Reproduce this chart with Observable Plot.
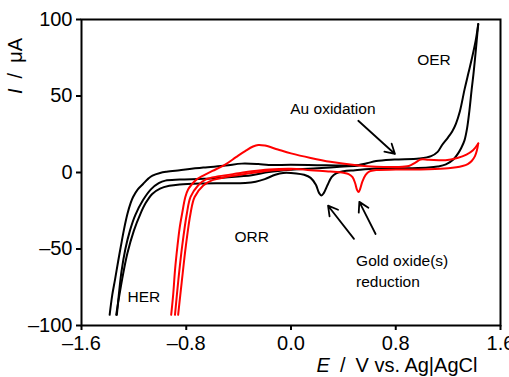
<!DOCTYPE html>
<html><head><meta charset="utf-8">
<script src="https://cdn.jsdelivr.net/npm/d3@7"></script>
<script src="https://cdn.jsdelivr.net/npm/@observablehq/plot@0.6"></script>
<style>
html,body{margin:0;padding:0;background:#fff;}
#chart svg{display:block;}
#chart g[aria-label^="x-axis"] line, #chart g[aria-label^="x-axis"] path,
#chart g[aria-label^="y-axis"] line, #chart g[aria-label^="y-axis"] path{stroke-width:2px;stroke:#000;}
</style>
</head><body><div id="chart"></div>
<script>
// ---- data (E in V vs Ag|AgCl, I in µA) ----
const xTicks = [-1.6, -0.8, 0, 0.8, 1.6];
const yTicks = [-100, -50, 0, 50, 100];

const blackAnodic1 = [[-1.385,-93],[-1.365,-80],[-1.344,-70],[-1.32,-58],[-1.299,-48],[-1.275,-37],[-1.249,-27],[-1.225,-20],[-1.206,-16],[-1.17,-11],[-1.13,-7.5],[-1.09,-4],[-1.058,-2],[-1.0,-0.3],[-0.95,0.5],[-0.85,1.5],[-0.67,3.2],[-0.5,4.5],[-0.376,5.8],[-0.25,5.5],[-0.17,4.9],[0,5],[0.2,4.8],[0.4,4.6],[0.51,4.8],[0.58,6],[0.65,7.5],[0.79,8.5],[0.98,9.2],[1.07,10.7],[1.12,13.5],[1.154,18],[1.2,23],[1.232,27],[1.26,32],[1.29,40],[1.326,54.5],[1.355,65],[1.38,74],[1.41,86],[1.43,97]];
const blackCathodic = [[1.43,97],[1.418,86],[1.405,74],[1.393,64],[1.38,54.5],[1.362,40],[1.345,29],[1.325,21],[1.30,16],[1.28,13],[1.24,8.5],[1.183,5.3],[1.12,3.9],[1.05,3.2],[0.9,2.8],[0.65,2.6],[0.49,1.5],[0.40,0.8],[0.345,-0.5],[0.31,-3],[0.28,-8],[0.25,-13.5],[0.233,-15],[0.215,-13.5],[0.19,-8],[0.15,-3.5],[0.10,-1.5],[0.04,-0.6],[-0.06,-0.3],[-0.12,-1.5],[-0.2,-4.3],[-0.27,-6],[-0.35,-6.8],[-0.5,-7],[-0.7,-7.2],[-0.85,-7.8],[-0.93,-8.7],[-1.0,-10.5],[-1.06,-14],[-1.11,-20],[-1.15,-27],[-1.2,-38],[-1.25,-53],[-1.29,-70],[-1.32,-85],[-1.335,-93]];
const blackAnodic2 = [[-1.33,-93],[-1.315,-80],[-1.295,-65],[-1.265,-50],[-1.23,-38],[-1.19,-28],[-1.13,-18],[-1.07,-11],[-1.01,-7],[-0.96,-5.3],[-0.85,-4.6],[-0.67,-4.1],[-0.5,-3.2],[-0.3,-1.8],[-0.17,0.3],[0,1.8],[0.2,2.8],[0.35,3.6],[0.5,4.4],[0.56,5]];

const redAnodic = [[-0.915,-93],[-0.9,-80],[-0.885,-63],[-0.867,-48],[-0.85,-36],[-0.831,-26.6],[-0.807,-16],[-0.785,-11],[-0.76,-8],[-0.72,-4.5],[-0.67,-2],[-0.6,1],[-0.5,5.3],[-0.42,10],[-0.35,14],[-0.29,17],[-0.25,18],[-0.2,17.6],[-0.1,15],[0,12.5],[0.15,9.5],[0.3,7],[0.5,4.8],[0.65,3.8],[0.8,3.6],[0.9,4.2],[0.95,6.5],[0.99,8.5],[1.05,8.4],[1.18,8],[1.27,9.5],[1.34,11.7],[1.39,14.5],[1.43,19]];
const redCathodic = [[1.43,19],[1.42,14.5],[1.405,10.7],[1.38,7.5],[1.35,5.5],[1.31,4.3],[1.2,2.8],[1.05,2.1],[0.8,1.9],[0.65,1.6],[0.6,0.8],[0.57,-1.5],[0.545,-6],[0.527,-11],[0.517,-12.8],[0.505,-11.5],[0.49,-7],[0.47,-3],[0.44,-1],[0.4,-0.2],[0.3,0.6],[0.15,1.5],[0,2.5],[-0.17,2],[-0.3,0.8],[-0.4,-0.5],[-0.55,-2.5],[-0.65,-4.5],[-0.71,-8.5],[-0.767,-16],[-0.795,-26.6],[-0.831,-48],[-0.86,-70],[-0.886,-93]];
const redCathodic2 = [[0,2],[-0.17,1.2],[-0.35,-1],[-0.5,-3],[-0.6,-5],[-0.67,-8.5],[-0.736,-16],[-0.767,-26.6],[-0.803,-48],[-0.835,-72],[-0.862,-93]];

const noteText = ["OER", "Au oxidation", "ORR", "HER"];
const noteE = [1.092, 0.32, -0.30, -1.124];
const noteI = [73.6, 41.5, -42.1, -81.6];

const goldText = ["Gold oxide(s)", "reduction"];
const goldE = [0.497, 0.497];
const goldI = [-58.1, -71.9];

const arrowE1 = [0.514, 0.481, 0.646];
const arrowI1 = [33.8, -43.4, -40.2];
const arrowE2 = [0.794, 0.283, 0.522];
const arrowI2 = [12.1, -21.7, -19.2];

// ---- build tables ----
const toRows = pts => pts.map(([E, I]) => ({E, I}));
const notes = noteText.map((t, i) => ({t, E: noteE[i], I: noteI[i]}));
const gold = goldText.map((t, i) => ({t, E: goldE[i], I: goldI[i]}));
const arrows = arrowE1.map((e, i) => ({x1: e, y1: arrowI1[i], x2: arrowE2[i], y2: arrowI2[i]}));
const fmtX = d => (d < 0 ? "\u2013" : "") + Math.abs(d).toFixed(1);
const fmtY = d => (d < 0 ? "\u2013" : "") + Math.abs(d);

const lineOpts = color => ({x: "E", y: "I", stroke: color, strokeWidth: 2, curve: "catmull-rom"});

const plot = Plot.plot({
  width: 509, height: 377,
  marginLeft: 81, marginRight: 9, marginTop: 19, marginBottom: 52,
  style: {fontFamily: '"Liberation Sans", Arial, sans-serif', fontSize: "20px", background: "#fff", color: "#000"},
  x: {domain: [-1.6, 1.6], ticks: xTicks, tickFormat: fmtX, tickSize: 5, tickPadding: 5, label: null},
  y: {domain: [-100, 100], ticks: yTicks, tickFormat: fmtY, tickSize: 5, tickPadding: 4, label: null},
  marks: [
    Plot.line(toRows(blackAnodic1), lineOpts("#000")),
    Plot.line(toRows(blackCathodic), lineOpts("#000")),
    Plot.line(toRows(blackAnodic2), lineOpts("#000")),
    Plot.line(toRows(redAnodic), lineOpts("#ff0000")),
    Plot.line(toRows(redCathodic), lineOpts("#ff0000")),
    Plot.line(toRows(redCathodic2), lineOpts("#ff0000")),
    Plot.arrow(arrows, {x1: "x1", y1: "y1", x2: "x2", y2: "y2", stroke: "#000", strokeWidth: 1.8, headLength: 9}),
    Plot.text(notes, {x: "E", y: "I", text: "t", fontSize: 15.5, fill: "#000"}),
    Plot.text(gold, {x: "E", y: "I", text: "t", fontSize: 15.5, fill: "#000", textAnchor: "start"}),
    Plot.frame({stroke: "#000", strokeWidth: 2})
  ]
});

const svg = d3.select(plot);
const yl = svg.append("text")
  .attr("transform", "translate(22,66) rotate(-90)")
  .attr("text-anchor", "middle")
  .attr("font-size", 20).attr("fill", "#000");
yl.append("tspan").attr("font-style", "italic").text("I");
yl.append("tspan").text("\u2002/\u2002\u03bcA");

const xl = svg.append("text")
  .attr("x", 397).attr("y", 372)
  .attr("text-anchor", "middle")
  .attr("font-size", 20).attr("fill", "#000");
xl.append("tspan").attr("font-style", "italic").text("E");
xl.append("tspan").text("\u2002/\u2002V vs. Ag|AgCl");

document.getElementById("chart").appendChild(plot);
</script>
</body></html>
